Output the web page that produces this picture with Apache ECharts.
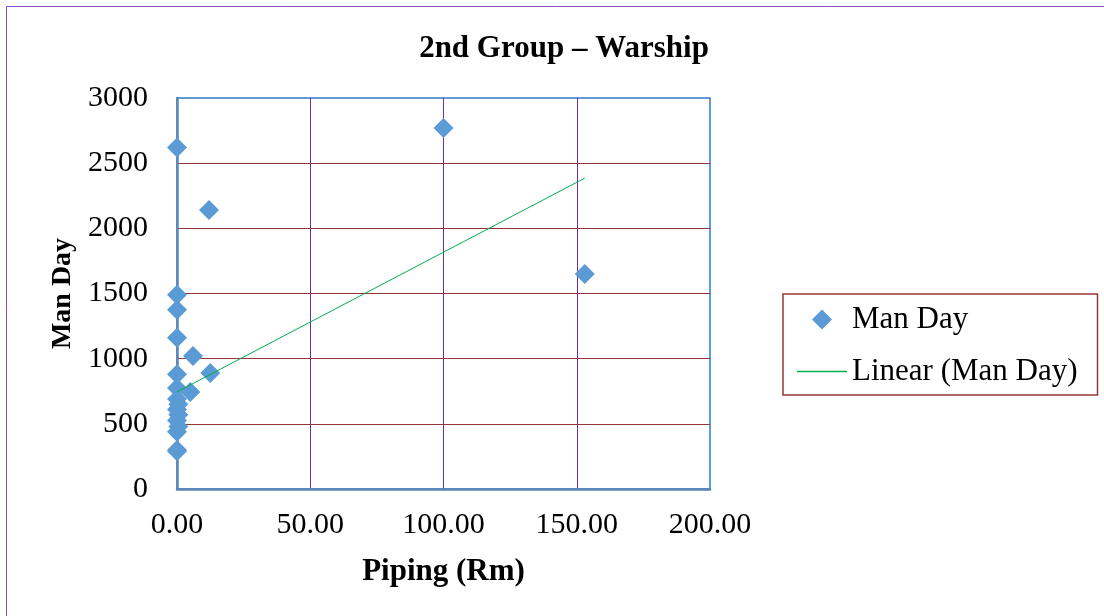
<!DOCTYPE html>
<html><head><meta charset="utf-8">
<script src="https://cdn.jsdelivr.net/npm/echarts@6/dist/echarts.min.js"></script>
<style>html,body{margin:0;padding:0;background:#fff}#c{width:1104px;height:616px}</style>
</head><body><div id="c"></div>
<script>
const titleText = '2nd Group – Warship';
const xName = 'Piping (Rm)';
const yName = 'Man Day';
const pipingX = [0, 100, 12, 153, 0, 0, 0, 6, 12.5, 0, 5, 0, 0, 0.5, 0, 0.5, 0, 0.5, 0, 0, 0];
const manDayY = [2620, 2770, 2140, 1650, 1490, 1375, 1160, 1020, 890, 880, 745, 775, 690, 650, 610, 570, 525, 480, 440, 300, 290];
const trendX = [0, 153];
const trendY = [745, 2385];

const font = 'Liberation Serif';
const chart = echarts.init(document.getElementById('c'));
chart.setOption({
  animation: false,
  backgroundColor: '#fff',
  title: {
    text: titleText, left: 559, top: 28, textAlign: 'center',
    textStyle: { fontFamily: font, fontSize: 31, fontWeight: 'bold', color: '#000' }
  },
  graphic: [{
    type: 'rect', shape: { x: 6.5, y: 6.5, width: 1110, height: 620 },
    style: { fill: null, stroke: '#8A4FC8', lineWidth: 1 }, silent: true, z: -1
  }],
  legend: {
    orient: 'vertical', left: 783, top: 294,
    backgroundColor: '#fff',
    borderColor: '#953735', borderWidth: 1.5,
    padding: [10, 20, 8, 14], itemGap: 21,
    itemWidth: 50, itemHeight: 20,
    textStyle: { fontFamily: font, fontSize: 31, color: '#000' },
    data: [
      { name: 'Man Day', icon: 'path://M10,0L20,10L10,20L0,10Z', itemStyle: { color: '#5B9BD5' } },
      { name: 'Linear (Man Day)', icon: 'path://M0,0L50,0L50,1.5L0,1.5Z',
        itemStyle: { color: '#00B050', borderWidth: 0 }, lineStyle: { width: 0 } }
    ]
  },
  grid: {
    left: 177, right: 394, top: 98, bottom: 127,
    show: true, borderColor: '#2F7BC4', borderWidth: 1.5
  },
  xAxis: {
    type: 'value', min: 0, max: 200, interval: 50,
    name: xName, nameLocation: 'middle', nameGap: 67,
    nameTextStyle: { fontFamily: font, fontSize: 31, fontWeight: 'bold', color: '#000' },
    axisLine: { show: true, onZero: false, lineStyle: { color: '#5B87B8', width: 2.5 } },
    axisTick: { show: false },
    axisLabel: { fontFamily: font, fontSize: 30, color: '#000', margin: 21, formatter: v => v.toFixed(2) },
    splitLine: { show: true, showMinLine: false, showMaxLine: false, lineStyle: { color: '#7030A0', width: 1 } }
  },
  yAxis: {
    type: 'value', min: 0, max: 3000, interval: 500,
    name: yName, nameLocation: 'middle', nameGap: 100,
    nameTextStyle: { fontFamily: font, fontSize: 28, fontWeight: 'bold', color: '#000' },
    axisLine: { show: true, lineStyle: { color: '#5B87B8', width: 2.5 } },
    axisTick: { show: false },
    axisLabel: { fontFamily: font, fontSize: 30, color: '#000', margin: 29, formatter: v => String(v) },
    splitLine: { show: true, showMinLine: false, showMaxLine: false, lineStyle: { color: '#953735', width: 1 } }
  },
  series: [
    {
      name: 'Man Day', type: 'scatter', symbol: 'diamond', symbolSize: 20,
      itemStyle: { color: '#5B9BD5', opacity: 1 },
      data: pipingX.map((x, i) => [x, manDayY[i]]), z: 3
    },
    {
      name: 'Linear (Man Day)', type: 'line', symbol: 'none',
      lineStyle: { color: '#00B050', width: 1 }, itemStyle: { color: '#00B050' },
      data: trendX.map((x, i) => [x, trendY[i]]), z: 4
    }
  ]
});
</script></body></html>
